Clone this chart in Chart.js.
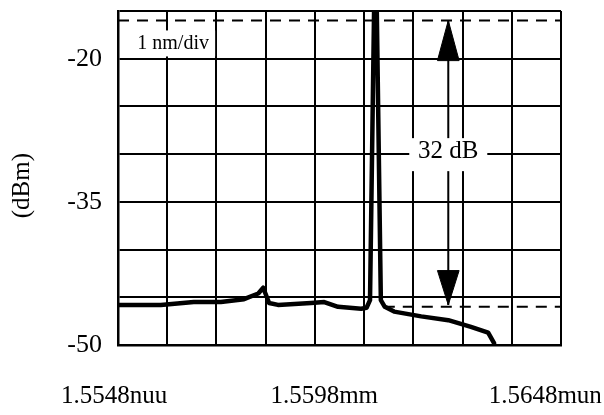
<!DOCTYPE html>
<html>
<head>
<meta charset="utf-8">
<script src="https://cdn.jsdelivr.net/npm/chart.js@4.4.1/dist/chart.umd.min.js"></script>
<style>
  html, body { margin: 0; padding: 0; background: #fff; }
  #wrap { width: 604px; height: 415px; }
</style>
</head>
<body>
<div id="wrap"><canvas id="specChart" width="604" height="415"></canvas></div>
<script>
// spectrum trace, x in grid divisions (1 nm/div), y in dBm
const traceX = [0, 0.87, 1.54, 2.09, 2.56, 2.85, 2.95, 3.07, 3.25, 3.92, 4.19, 4.47, 4.94, 5.05, 5.12, 5.205, 5.255, 5.34, 5.42, 5.61, 6.16, 6.71, 7.17, 7.52, 7.64];
const traceY = [-45.8, -45.8, -45.5, -45.5, -45.2, -44.6, -44.0, -45.6, -45.8, -45.6, -45.5, -46.0, -46.2, -46.1, -45.3, -14, -14, -45.3, -46.0, -46.5, -47.0, -47.4, -48.1, -48.7, -49.8];

// dashed reference levels
const topLevel = -16;
const floorLevel = -46;
const topLevelX = [0, 9];
const floorLevelX = [5.4, 9];

// 32 dB arrow
const arrowX = 6.71;
const arrowY = [-16, -45.8];
const headHalfWidth = 0.22;
const upperHead = { tip: -16, base: -20.2 };
const lowerHead = { tip: -45.8, base: -42.2 };

const yTickLabels = [-20, -35, -50];
const xLabelText = ["1.5548nuu", "1.5598mm", "1.5648mun"];
const xLabelPos = [-0.08, 4.19, 8.68];

const serif = '"Liberation Serif", "Times New Roman", serif';

function pts(xs, ys) {
  return xs.map((x, i) => ({ x: x, y: ys[i] }));
}

function headPts(head) {
  return [
    { x: arrowX, y: head.tip },
    { x: arrowX - headHalfWidth, y: head.base },
    { x: arrowX + headHalfWidth, y: head.base },
    { x: arrowX, y: head.tip },
  ];
}

const textPlugin = {
  id: "figureText",
  afterDatasetsDraw(chart) {
    const ctx = chart.ctx;
    const xs = chart.scales.x;
    const ys = chart.scales.y;
    ctx.save();
    ctx.textAlign = "center";
    ctx.textBaseline = "middle";

    // "1 nm/div" box
    let cx = xs.getPixelForValue(1.12);
    let cy = ys.getPixelForValue(-18.4);
    ctx.fillStyle = "#fff";
    ctx.fillRect(cx - 42, cy - 13, 84, 26);
    ctx.fillStyle = "#000";
    ctx.font = "20px " + serif;
    ctx.fillText("1 nm/div", cx, cy);

    // "32 dB" box, covers the arrow shaft and grid
    cx = xs.getPixelForValue(arrowX);
    cy = ys.getPixelForValue(-30.0);
    ctx.fillStyle = "#fff";
    ctx.fillRect(cx - 39, cy - 16, 78, 33);
    ctx.fillStyle = "#000";
    ctx.font = "25px " + serif;
    ctx.fillText("32 dB", cx, cy - 3);

    // x labels
    ctx.font = "25px " + serif;
    xLabelText.forEach((t, i) => {
      ctx.fillText(t, xs.getPixelForValue(xLabelPos[i]), chart.chartArea.bottom + 51);
    });

    // y title
    ctx.translate(22, ys.getPixelForValue(-33.3));
    ctx.rotate(-Math.PI / 2);
    ctx.font = "25px " + serif;
    ctx.fillText("(dBm)", 0, 0);
    ctx.restore();
  },
};

new Chart(document.getElementById("specChart"), {
  type: "line",
  data: {
    datasets: [
      {
        data: pts(topLevelX, [topLevel, topLevel]),
        borderColor: "#000",
        borderWidth: 2,
        borderDash: [11, 8],
        pointRadius: 0,
      },
      {
        data: pts(floorLevelX, [floorLevel, floorLevel]),
        borderColor: "#000",
        borderWidth: 2,
        borderDash: [11, 8],
        pointRadius: 0,
      },
      {
        data: pts(traceX, traceY),
        borderColor: "#000",
        borderWidth: 4.5,
        pointRadius: 0,
        borderJoinStyle: "round",
        borderCapStyle: "round",
      },
      {
        data: pts([arrowX, arrowX], arrowY),
        borderColor: "#000",
        borderWidth: 2,
        pointRadius: 0,
      },
      {
        data: headPts(upperHead),
        borderColor: "#000",
        backgroundColor: "#000",
        borderWidth: 1,
        pointRadius: 0,
        fill: "shape",
      },
      {
        data: headPts(lowerHead),
        borderColor: "#000",
        backgroundColor: "#000",
        borderWidth: 1,
        pointRadius: 0,
        fill: "shape",
      },
    ],
  },
  options: {
    responsive: false,
    animation: false,
    events: [],
    layout: { padding: { top: 11, right: 43, left: 0, bottom: 0 } },
    plugins: {
      legend: { display: false },
      tooltip: { enabled: false },
    },
    scales: {
      x: {
        type: "linear",
        min: 0,
        max: 9,
        ticks: { stepSize: 1, display: false },
        grid: { color: "#000", lineWidth: 2, drawTicks: false },
        border: { color: "#000", width: 2.5 },
        afterFit(scale) {
          scale.height = 70;
          scale.paddingLeft = 0;
          scale.paddingRight = 0;
        },
      },
      y: {
        min: -50,
        max: -15,
        ticks: {
          stepSize: 5,
          padding: 16,
          color: "#000",
          font: { family: serif, size: 26 },
          callback: (v) => (yTickLabels.includes(v) ? String(v) : ""),
        },
        grid: { color: "#000", lineWidth: 2, drawTicks: false },
        border: { color: "#000", width: 2.5 },
        afterFit(scale) {
          scale.width = 118;
          scale.paddingTop = 0;
          scale.paddingBottom = 0;
        },
      },
    },
  },
  plugins: [textPlugin],
});
</script>
</body>
</html>
